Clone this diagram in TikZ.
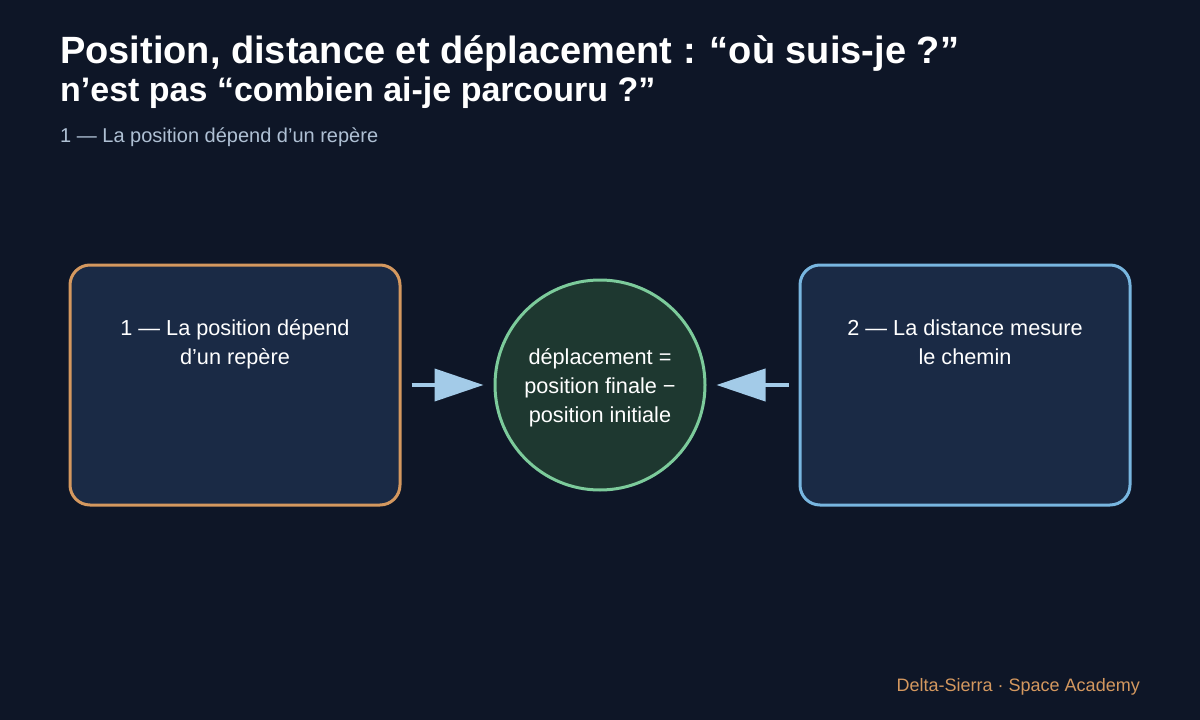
\documentclass[tikz,border=0pt]{standalone}
\usepackage{fontspec}
\setmainfont{Liberation Sans}
\usetikzlibrary{arrows.meta}
\definecolor{bgnavy}{HTML}{0E1627}
\definecolor{boxnavy}{HTML}{1A2A45}
\definecolor{orangeline}{HTML}{D4985F}
\definecolor{blueline}{HTML}{78B6E0}
\definecolor{greenfill}{HTML}{1E3830}
\definecolor{greenline}{HTML}{7CCB9B}
\definecolor{arrowblue}{HTML}{A3CBE8}
\definecolor{subgrey}{HTML}{AFC0D4}
\begin{document}
\begin{tikzpicture}[x=1pt,y=-1pt,
	card/.style={draw,line width=3pt,fill=boxnavy,rounded corners=20pt,minimum width=330pt,minimum height=240pt},
	cardtext/.style={text=white,font=\fontsize{21.7pt}{29pt}\selectfont,align=center,anchor=base},
	bigarrow/.style={draw=arrowblue,line width=4pt,-{Triangle[length=49pt,width=32pt]},shorten <=10pt,shorten >=10pt}]
	\fill[bgnavy] (0,0) rectangle (1200,720);
	\useasboundingbox (0,0) rectangle (1200,720);

	% title
	\node[anchor=base west,inner sep=0pt,text=white,font=\fontsize{38pt}{40pt}\selectfont\bfseries] (title1) at (60,63) {Position, distance et déplacement : “où suis-je ?”};
	\node[anchor=base west,inner sep=0pt,text=white,font=\fontsize{34pt}{40pt}\selectfont\bfseries] (title2) at (60,101) {n’est pas “combien ai-je parcouru ?”};
	\node[anchor=base west,inner sep=0pt,text=subgrey,font=\fontsize{20pt}{24pt}\selectfont] (sub) at (60,142) {1 — La position dépend d’un repère};

	% boxes and circle
	\node[card,draw=orangeline] (left) at (235,385) {};
	\node[card,draw=blueline] (right) at (965,385) {};
	\node[circle,draw=greenline,line width=3pt,fill=greenfill,minimum size=210pt] (disp) at (600,385) {};

	% multi-line text: base is the last line
	\node[cardtext] (lefttext) at (235,364) {1 — La position dépend\\d’un repère};
	\node[cardtext] (righttext) at (965,364) {2 — La distance mesure\\le chemin};
	\node[cardtext] (disptext) at (600,422) {déplacement =\\position finale −\\position initiale};

	% arrows
	\draw[bigarrow] (left.east) -- (disp.west);
	\draw[bigarrow] (right.west) -- (disp.east);

	% footer
	\node[anchor=base east,inner sep=0pt,text=orangeline,font=\fontsize{18pt}{22pt}\selectfont] (footer) at (1140,691) {Delta-Sierra · Space Academy};
\end{tikzpicture}
\end{document}
